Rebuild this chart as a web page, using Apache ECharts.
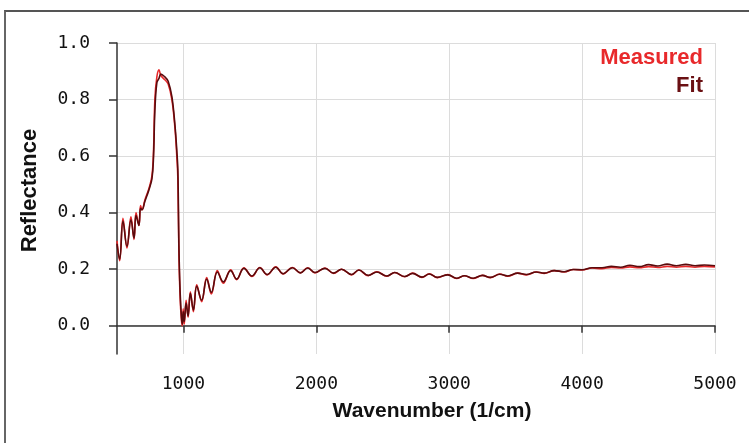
<!DOCTYPE html>
<html>
<head>
<meta charset="utf-8">
<script src="https://cdn.jsdelivr.net/npm/echarts@6/dist/echarts.min.js"></script>
<style>
  html, body { margin: 0; padding: 0; background: #fff; }
  #wrap { position: relative; width: 749px; height: 443px; overflow: hidden; }
  #frame { position: absolute; left: 4px; top: 10px; width: 800px; height: 500px;
           border-left: 2px solid #666; border-top: 2px solid #555; }
  #main { position: absolute; left: 0; top: 0; width: 749px; height: 443px; }
</style>
</head>
<body>
<div id="wrap">
  <div id="frame"></div>
  <div id="main"></div>
</div>
<script>
// 波数 (1/cm)
var wavenumber = [500, 520, 545, 575, 605, 628, 643, 665, 677, 688, 710, 725, 740, 763, 775, 785, 800, 816, 830, 860, 885, 913, 936, 950, 958, 966, 975, 985, 992, 998,
  1006, 1020, 1035, 1052, 1075, 1100, 1137, 1175, 1210, 1255, 1300, 1355, 1400, 1455, 1515, 1575, 1630, 1695, 1750, 1820, 1880, 1935, 1990,
  2065, 2130, 2190, 2265, 2320, 2390, 2455, 2530, 2590, 2665, 2725, 2795, 2850, 2910, 2990,
  3055, 3115, 3180, 3250, 3310, 3380, 3440, 3515, 3580, 3655, 3715, 3790, 3865, 3935,
  4000, 4075, 4150, 4220, 4290, 4360, 4430, 4500, 4570, 4640, 4710, 4780, 4850, 4920, 5000];
// 实测反射率
var measured = [0.30, 0.23, 0.38, 0.275, 0.385, 0.305, 0.40, 0.355, 0.425, 0.41, 0.445, 0.465, 0.485, 0.53, 0.62, 0.80, 0.88, 0.905, 0.885, 0.87, 0.855, 0.80, 0.70, 0.60, 0.52, 0.25, 0.10, 0.02, 0.0, 0.06,
  0.005, 0.09, 0.03, 0.12, 0.05, 0.145, 0.085, 0.17, 0.112, 0.195, 0.15, 0.198, 0.163, 0.205, 0.174, 0.206, 0.18, 0.208, 0.183, 0.206, 0.187, 0.205, 0.187,
  0.204, 0.185, 0.2, 0.18, 0.197, 0.177, 0.191, 0.175, 0.188, 0.173, 0.186, 0.171, 0.184, 0.17, 0.181,
  0.167, 0.177, 0.167, 0.178, 0.170, 0.183, 0.175, 0.186, 0.18, 0.19, 0.185, 0.195, 0.19, 0.199,
  0.197, 0.204, 0.202, 0.206, 0.204, 0.208, 0.205, 0.209, 0.206, 0.21, 0.207, 0.21, 0.207, 0.21, 0.208];
// 拟合
var fit = [0.29, 0.235, 0.37, 0.28, 0.375, 0.31, 0.39, 0.355, 0.415, 0.41, 0.44, 0.46, 0.48, 0.52, 0.60, 0.76, 0.86, 0.875, 0.89, 0.88, 0.865, 0.81, 0.71, 0.62, 0.55, 0.28, 0.12, 0.03, 0.005, 0.05,
  0.015, 0.08, 0.035, 0.115, 0.055, 0.14, 0.09, 0.165, 0.118, 0.19, 0.155, 0.195, 0.165, 0.203, 0.176, 0.205, 0.181, 0.207, 0.184, 0.205, 0.187, 0.204, 0.188,
  0.203, 0.186, 0.2, 0.181, 0.197, 0.178, 0.19, 0.176, 0.188, 0.174, 0.185, 0.172, 0.183, 0.171, 0.18,
  0.168, 0.177, 0.168, 0.178, 0.171, 0.182, 0.176, 0.186, 0.181, 0.19, 0.186, 0.195, 0.191, 0.199,
  0.198, 0.205, 0.205, 0.21, 0.207, 0.214, 0.209, 0.216, 0.211, 0.218, 0.212, 0.217, 0.212, 0.215, 0.212];
var xTicks = [1000, 2000, 3000, 4000, 5000];
var yTicks = [0, 0.2, 0.4, 0.6, 0.8, 1.0];

function pairs(ys) {
  return wavenumber.map(function (w, i) { return [w, ys[i]]; });
}

var myChart = echarts.init(document.getElementById('main'));
myChart.setOption({
  animation: false,
  grid: { left: 117, right: 34, top: 43, bottom: 89 },
  legend: [
    {
      data: [{ name: 'Measured', textStyle: { color: '#e8292b' } }],
      right: 46, top: 47, icon: 'none', itemWidth: 0, itemHeight: 0, padding: 0,
      textStyle: { fontFamily: 'Liberation Sans', fontWeight: 'bold', fontSize: 22 }
    },
    {
      data: [{ name: 'Fit', textStyle: { color: '#6a1013' } }],
      right: 46, top: 75, icon: 'none', itemWidth: 0, itemHeight: 0, padding: 0,
      textStyle: { fontFamily: 'Liberation Sans', fontWeight: 'bold', fontSize: 22 }
    }
  ],
  xAxis: {
    type: 'value', min: 500, max: 5000,
    name: 'Wavenumber (1/cm)', nameLocation: 'middle', nameGap: 47,
    nameTextStyle: { fontFamily: 'Liberation Sans', fontWeight: 'bold', fontSize: 21, color: '#111', padding: [0, 0, 0, 32] },
    axisLine: { show: true, lineStyle: { color: '#333', width: 1.5 } },
    axisTick: { show: true, length: 7, customValues: xTicks, lineStyle: { color: '#333', width: 1.5 } },
    axisLabel: {
      customValues: xTicks, margin: 21, fontFamily: 'DejaVu Sans Mono', fontSize: 18, color: '#111',
      formatter: function (v) { return String(v); }
    },
    splitLine: { show: true, lineStyle: { color: '#dcdcdc', width: 1 } }
  },
  yAxis: {
    type: 'value', min: -0.1, max: 1.0,
    name: 'Reflectance', nameLocation: 'middle', nameGap: 76,
    nameTextStyle: { fontFamily: 'Liberation Sans', fontWeight: 'bold', fontSize: 22, color: '#111', padding: [0, 0, 0, 16] },
    axisLine: { show: true, lineStyle: { color: '#333', width: 1.5 } },
    axisTick: { show: true, length: 8, customValues: yTicks, lineStyle: { color: '#333', width: 1.5 } },
    axisLabel: {
      customValues: yTicks, margin: 27, fontFamily: 'DejaVu Sans Mono', fontSize: 18, color: '#111',
      formatter: function (v) { return v.toFixed(1); }
    },
    splitLine: { show: true, lineStyle: { color: '#dcdcdc', width: 1 } }
  },
  series: [
    {
      name: 'Measured', type: 'line', data: pairs(measured), smooth: 0.4,
      showSymbol: false, lineStyle: { color: '#e8292b', width: 1.6 }, itemStyle: { color: '#e8292b' }
    },
    {
      name: 'Fit', type: 'line', data: pairs(fit), smooth: 0.4,
      showSymbol: false, lineStyle: { color: '#5a0b0d', width: 1.6 }, itemStyle: { color: '#5a0b0d' }
    }
  ]
});
</script>
</body>
</html>
